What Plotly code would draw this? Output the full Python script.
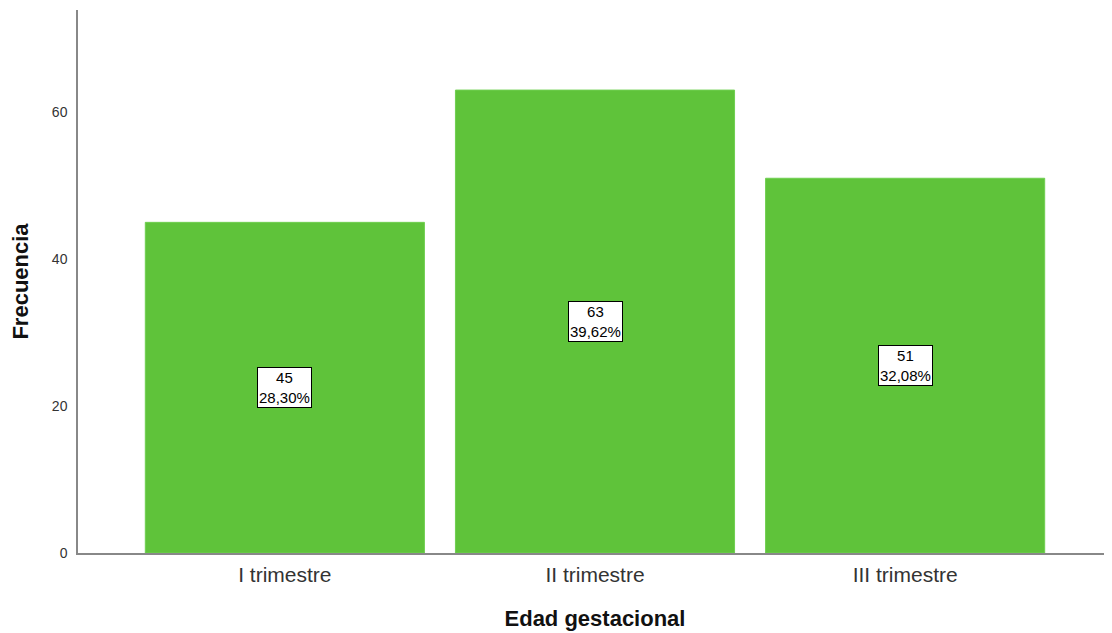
import plotly.graph_objects as go

categories = ["I trimestre", "II trimestre", "III trimestre"]
counts = [45, 63, 51]
y_ticks = [0, 20, 40, 60]

total = sum(counts)
pct_labels = [f"{c}<br>{c / total * 100:.2f}%".replace(".", ",") for c in counts]

fig = go.Figure()
fig.add_trace(go.Bar(
    x=categories, y=counts,
    marker=dict(color="#5fc33a", line=dict(color="#6fcf50", width=1)),
    width=0.9,
    hoverinfo="skip",
))

for cat, c, lab in zip(categories, counts, pct_labels):
    fig.add_annotation(
        x=cat, y=c / 2, text=lab, showarrow=False,
        font=dict(family="Liberation Sans, Arial", size=15, color="#000"),
        bgcolor="white", bordercolor="#000", borderwidth=1, borderpad=1,
    )

# page body has an 8px default margin, so shrink the figure accordingly
fig.update_layout(
    width=1104, height=625,
    margin=dict(l=70, r=0, t=2, b=80),
    plot_bgcolor="white", paper_bgcolor="white",
    showlegend=False,
    font=dict(family="Liberation Sans, Arial"),
    xaxis=dict(
        range=[-0.667, 2.667],
        showline=True, linecolor="#888", linewidth=1.5,
        ticks="", showgrid=False,
        tickfont=dict(size=21, color="#333"),
        ticklabelstandoff=2,
        title=dict(text="<b>Edad gestacional</b>", font=dict(size=22, color="#111"), standoff=26),
    ),
    yaxis=dict(
        range=[0, 73.9],
        tickvals=y_ticks,
        showline=True, linecolor="#888", linewidth=1.5,
        ticks="", showgrid=False, zeroline=False,
        tickfont=dict(size=14, color="#333"),
        ticklabelstandoff=6,
        title=dict(text="<b>Frecuencia</b>", font=dict(size=22, color="#111"), standoff=18),
    ),
)

fig.write_html("out.html")
